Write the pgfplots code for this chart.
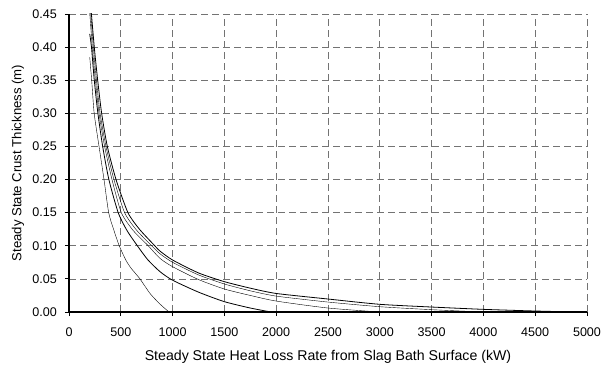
\documentclass[border=0pt]{standalone}
\usepackage{fontspec}
\setmainfont{Liberation Sans}
\usepackage{pgfplots}
\pgfplotsset{compat=1.18}
\begin{document}
\begin{tikzpicture}
\begin{axis}[
  scale only axis, width=518bp, height=298bp,
  xmin=0, xmax=5000, ymin=0, ymax=0.45,
  xtick={0,500,1000,1500,2000,2500,3000,3500,4000,4500,5000},
  ytick={0,0.05,0.10,0.15,0.20,0.25,0.30,0.35,0.40,0.45},
  axis x line*=bottom, axis y line*=left,
  axis line style={black, line width=1.4bp},
  tick align=outside, major tick length=4bp,
  tick style={black, line width=0.8bp},
  grid=major,
  major grid style={black!55, line width=0.7bp, dash pattern=on 7bp off 4bp},
  /pgf/number format/assume math mode=true,
  /pgf/number format/1000 sep={},
  ticklabel style={font=\fontsize{12.6}{14}\selectfont, inner sep=0pt},
  yticklabel style={/pgf/number format/fixed, /pgf/number format/fixed zerofill, /pgf/number format/precision=2, anchor=east, xshift=-8bp},
  xticklabel style={anchor=base, yshift=-20bp},
  xlabel={Steady State Heat Loss Rate from Slag Bath Surface (kW)},
  ylabel={Steady State Crust Thickness (m)},
  every axis x label/.style={at={(axis description cs:0.5,0)}, anchor=center, yshift=-45bp, font=\fontsize{14.2}{16}\selectfont},
  every axis y label/.style={at={([xshift=-51bp]axis description cs:0,0.5)}, rotate=90, anchor=center, font=\fontsize{13.2}{15}\selectfont},
  cycle list={{black, line width=0.8bp, no marks}},
]
\coordinate (O) at (rel axis cs:0,0);
\addplot+[smooth, tension=0.4] coordinates {(200,0.385) (219,0.35) (243,0.30) (290,0.25) (338,0.20) (383,0.15) (430,0.125) (485,0.10) (550,0.078) (600,0.066) (685,0.05) (782,0.028) (878,0.012) (965,0)};
\addplot+[smooth, tension=0.4] coordinates {(200,0.42) (217,0.40) (244,0.35) (279,0.30) (325,0.25) (385,0.20) (475,0.15) (560,0.123) (660,0.10) (760,0.079) (878,0.061) (1000,0.048) (1250,0.030) (1500,0.0156) (1750,0.006) (1950,0)};
\addplot+[smooth, tension=0.4] coordinates {(200,0.452) (225,0.40) (255,0.35) (290,0.30) (344,0.25) (415,0.20) (505,0.15) (620,0.123) (765,0.10) (878,0.081) (1000,0.0684) (1250,0.049) (1500,0.0347) (1750,0.025) (2000,0.0165) (2500,0.006) (3000,0)};
\addplot+[smooth, tension=0.4] coordinates {(200,0.47) (235,0.40) (265,0.35) (300,0.30) (357,0.25) (434,0.20) (537,0.15) (650,0.124) (798,0.10) (878,0.088) (1000,0.075) (1250,0.056) (1500,0.0423) (1750,0.032) (2000,0.024) (2500,0.015) (3000,0.008) (3500,0.0035) (4000,0)};
\addplot+[smooth, tension=0.4] coordinates {(200,0.48) (244,0.40) (277,0.35) (315,0.30) (370,0.25) (454,0.20) (569,0.15) (680,0.125) (828,0.10) (878,0.092) (1000,0.0785) (1250,0.059) (1500,0.0458) (1750,0.036) (2000,0.028) (2500,0.0196) (3000,0.0116) (3500,0.0075) (4000,0.004) (4500,0.0015) (4900,0)};
\end{axis}
\pgfresetboundingbox
\path (O) ++(-69bp,-53bp) rectangle ++(602bp,365bp);
\end{tikzpicture}
\end{document}
